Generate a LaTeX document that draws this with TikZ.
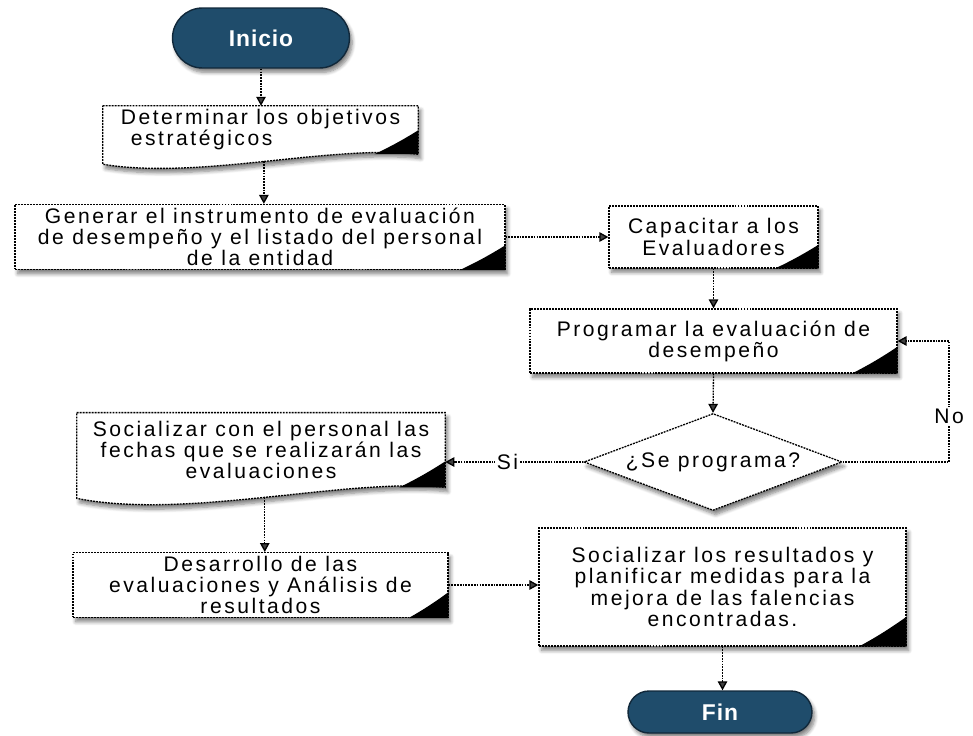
\documentclass[tikz,border=0pt]{standalone}
\usepackage{fontspec}
\setmainfont[LetterSpace=12]{Liberation Sans}
\newfontfamily\terminalfont[LetterSpace=4]{Liberation Sans}
\usetikzlibrary{arrows.meta,calc,shapes.geometric,shadows.blur}
\pgfdeclarelayer{background}
\pgfsetlayers{background,main}
\definecolor{azulinicio}{RGB}{31,76,107}
\definecolor{bordeinicio}{RGB}{17,40,58}

\begin{document}
\begin{tikzpicture}[x=0.02cm,y=-0.02cm,
    font=\fontsize{12}{12}\selectfont,
    borde/.style={draw=black,line width=0.75pt,dash pattern=on 1.1pt off 0.6pt},
    sombra/.style={blur shadow={shadow xshift=1.5pt,shadow yshift=-2.5pt,shadow blur steps=6,shadow opacity=50}},
    proceso/.style={rectangle,borde,fill=white,sombra,align=center,inner sep=2pt},
    documento/.style={rectangle,align=center,inner sep=2pt},
    terminal/.style={rectangle,fill=azulinicio,draw=bordeinicio,line width=0.8pt,text=white,
      font=\terminalfont\fontsize{13}{14}\selectfont\bfseries,sombra},
    flecha/.style={line width=0.75pt,dash pattern=on 1pt off 0.6pt,-{Triangle[length=1.8mm,width=1.9mm]}},
    etiqueta/.style={fill=white,inner sep=1pt}
  ]
  \useasboundingbox (0,0) rectangle (973,736);
  \def\esquina#1#2#3{\fill (#1) -- ++(0,-#2) .. controls +(-0.35*#3,0.4*#2) and +(0.35*#3,-0.3*#2) .. ++(-#3,#2) -- cycle;}

  \node[terminal,minimum width=3.54cm,minimum height=1.2cm,rounded corners=0.6cm] (inicio) at (261,38) {Inicio};
  \node[documento,minimum width=6.3cm,minimum height=0.92cm,align=left] (obj) at (260.5,130)
    {Determinar los objetivos\\\hspace{2mm}estratégicos};
  \node[proceso,minimum width=9.8cm,minimum height=1.24cm] (gen) at (260,237)
    {Generar el instrumento de evaluación\\de desempeño y el listado del personal\\de la entidad};
  \node[proceso,minimum width=4.18cm,minimum height=1.24cm] (cap) at (713.5,237)
    {Capacitar a los\\Evaluadores};
  \node[proceso,minimum width=7.34cm,minimum height=1.28cm] (prog) at (713.5,341)
    {Programar la evaluación de\\desempeño};
  \node[diamond,borde,fill=white,sombra,aspect=2.66,inner sep=0pt,
    minimum width=5.16cm,minimum height=1.94cm] (dec) at (713,462) {¿Se programa?};
  \node[documento,minimum width=7.36cm,minimum height=1.48cm] (soc) at (261,450)
    {Socializar con el personal las\\fechas que se realizarán las\\evaluaciones};
  \node[proceso,minimum width=7.5cm,minimum height=1.28cm] (des) at (260.5,585)
    {Desarrollo de las\\evaluaciones y Análisis de\\resultados};
  \node[proceso,minimum width=7.34cm,minimum height=2.36cm] (res) at (722.5,587)
    {Socializar los resultados y\\planificar medidas para la\\mejora de las falencias\\encontradas.};
  \node[terminal,minimum width=3.68cm,minimum height=0.84cm,rounded corners=0.42cm] (fin) at (720,712) {Fin};
  \coordinate (vuelta) at (949,0);

  \begin{pgfonlayer}{background}
    \draw[borde,fill=white,sombra] (obj.north west) -- (obj.north east) -- (obj.south east)
      .. controls +(-88,-10) and +(97,16) .. ($(obj.south west)+(0,10)$) coordinate[pos=.5] (obj-b) -- cycle;
    \draw[borde,fill=white,sombra] (soc.north west) -- (soc.north east) -- (soc.south east)
      .. controls +(-100,-10) and +(110,22) .. ($(soc.south west)+(0,11)$) coordinate[pos=.5] (soc-b) -- cycle;
  \end{pgfonlayer}

  \esquina{obj.south east}{24}{44}
  \esquina{gen.south east}{25}{46}
  \esquina{cap.south east}{24}{44}
  \esquina{prog.south east}{27}{46}
  \esquina{soc.south east}{26}{46}
  \esquina{des.south east}{26}{40}
  \esquina{res.south east}{30}{48}

  \draw[flecha] (inicio.south) -- (inicio.south |- obj.north);
  \draw[flecha] (obj-b) -- (obj-b |- gen.north);
  \draw[flecha] (gen.east) -- (cap.west);
  \draw[flecha] (cap.south) -- (prog.north);
  \draw[flecha] (prog.south) -- (dec.north);
  \draw[flecha] (dec.east) -- (dec.east -| vuelta) -- node[etiqueta,pos=.38] {No} (prog.east -| vuelta) -- (prog.east);
  \draw[flecha] (dec.west) -- node[etiqueta,pos=.55] {Si} (dec.west -| soc.east);
  \draw[flecha] (soc-b) -- (soc-b |- des.north);
  \draw[flecha] (des.east) -- (des.east -| res.west);
  \draw[flecha] (res.south) -- (res.south |- fin.north);
\end{tikzpicture}
\end{document}
